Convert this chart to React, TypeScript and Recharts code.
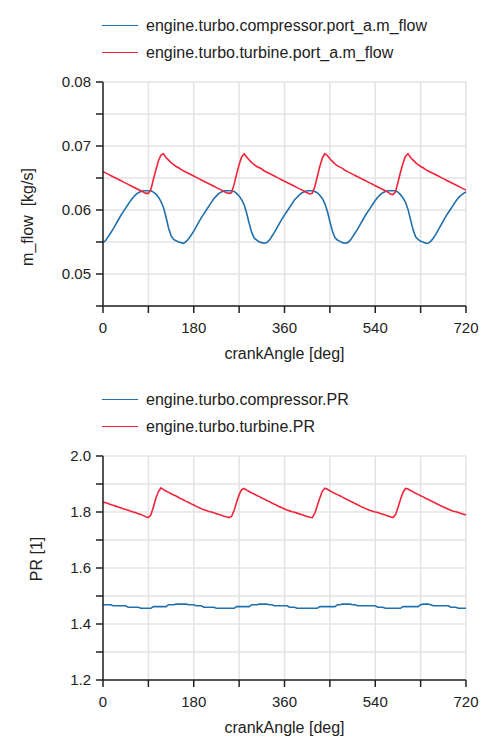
import React from 'react';
import { LineChart, Line, XAxis, YAxis, CartesianGrid, Label } from 'recharts';

// crank angle grid, one sample every 5 deg
const crankAngle: number[] = Array.from({ length: 145 }, (_, i) => i * 5);

// values, [kg/s]
const compressorMFlow = [
  0.0549, 0.0552, 0.0558, 0.0564, 0.0570, 0.0577, 0.0584, 0.0591, 0.0597, 0.0603,
  0.0609, 0.0615, 0.0620, 0.0624, 0.0627, 0.0629, 0.0630, 0.0630, 0.0630, 0.0630,
  0.0628, 0.0625, 0.0620, 0.0613, 0.0604, 0.0589, 0.0572, 0.0560, 0.0554, 0.0552,
  0.0550, 0.0549, 0.0548, 0.0551, 0.0555, 0.0561, 0.0567, 0.0574, 0.0581, 0.0588,
  0.0594, 0.0600, 0.0606, 0.0612, 0.0618, 0.0622, 0.0626, 0.0628, 0.0630, 0.0630,
  0.0630, 0.0630, 0.0629, 0.0626, 0.0622, 0.0616, 0.0608, 0.0595, 0.0579, 0.0565,
  0.0556, 0.0553, 0.0550, 0.0549, 0.0548, 0.0549, 0.0553, 0.0559, 0.0565, 0.0572,
  0.0579, 0.0586, 0.0592, 0.0598, 0.0604, 0.0610, 0.0616, 0.0620, 0.0624, 0.0627,
  0.0629, 0.0630, 0.0630, 0.0630, 0.0629, 0.0627, 0.0623, 0.0618, 0.0610, 0.0598,
  0.0582, 0.0567, 0.0557, 0.0553, 0.0551, 0.0549, 0.0548, 0.0549, 0.0552, 0.0558,
  0.0564, 0.0570, 0.0577, 0.0584, 0.0591, 0.0597, 0.0603, 0.0609, 0.0615, 0.0620,
  0.0624, 0.0627, 0.0629, 0.0630, 0.0630, 0.0630, 0.0630, 0.0628, 0.0624, 0.0619,
  0.0612, 0.0601, 0.0585, 0.0569, 0.0558, 0.0554, 0.0551, 0.0550, 0.0548, 0.0548,
  0.0551, 0.0556, 0.0562, 0.0569, 0.0576, 0.0583, 0.0590, 0.0596, 0.0602, 0.0608,
  0.0614, 0.0619, 0.0623, 0.0626, 0.0628,
];

const turbineMFlow = [
  0.0660, 0.0658, 0.0656, 0.0654, 0.0652, 0.0650, 0.0648, 0.0646, 0.0644, 0.0642,
  0.0640, 0.0638, 0.0636, 0.0634, 0.0632, 0.0630, 0.0628, 0.0626, 0.0626, 0.0632,
  0.0648, 0.0663, 0.0677, 0.0686, 0.0688, 0.0682, 0.0678, 0.0674, 0.0671, 0.0668,
  0.0666, 0.0663, 0.0661, 0.0659, 0.0657, 0.0655, 0.0653, 0.0651, 0.0649, 0.0647,
  0.0645, 0.0643, 0.0641, 0.0639, 0.0637, 0.0635, 0.0633, 0.0631, 0.0629, 0.0627,
  0.0626, 0.0627, 0.0640, 0.0656, 0.0671, 0.0683, 0.0688, 0.0683, 0.0678, 0.0674,
  0.0671, 0.0668, 0.0666, 0.0664, 0.0661, 0.0659, 0.0657, 0.0655, 0.0653, 0.0651,
  0.0649, 0.0647, 0.0645, 0.0643, 0.0641, 0.0639, 0.0637, 0.0635, 0.0633, 0.0631,
  0.0629, 0.0627, 0.0625, 0.0626, 0.0636, 0.0652, 0.0668, 0.0681, 0.0688, 0.0685,
  0.0680, 0.0676, 0.0672, 0.0669, 0.0667, 0.0665, 0.0662, 0.0660, 0.0658, 0.0656,
  0.0654, 0.0652, 0.0650, 0.0648, 0.0646, 0.0644, 0.0642, 0.0640, 0.0638, 0.0636,
  0.0634, 0.0632, 0.0630, 0.0628, 0.0625, 0.0624, 0.0628, 0.0643, 0.0659, 0.0673,
  0.0684, 0.0688, 0.0682, 0.0678, 0.0674, 0.0671, 0.0668, 0.0666, 0.0663, 0.0661,
  0.0659, 0.0657, 0.0655, 0.0653, 0.0651, 0.0649, 0.0647, 0.0645, 0.0643, 0.0641,
  0.0639, 0.0637, 0.0635, 0.0633, 0.0631,
];

// pressure ratios [1]
const compressorPR = [
  1.469, 1.469, 1.469, 1.469, 1.465, 1.465, 1.465, 1.465, 1.465, 1.465,
  1.460, 1.460, 1.460, 1.460, 1.460, 1.456, 1.456, 1.456, 1.456, 1.456,
  1.462, 1.462, 1.462, 1.462, 1.462, 1.462, 1.469, 1.469, 1.469, 1.471,
  1.471, 1.471, 1.471, 1.471, 1.469, 1.469, 1.469, 1.465, 1.465, 1.465,
  1.460, 1.460, 1.460, 1.460, 1.460, 1.456, 1.456, 1.456, 1.456, 1.456,
  1.456, 1.456, 1.456, 1.462, 1.462, 1.462, 1.462, 1.462, 1.462, 1.469,
  1.469, 1.469, 1.471, 1.471, 1.471, 1.471, 1.469, 1.469, 1.465, 1.465,
  1.465, 1.465, 1.465, 1.465, 1.460, 1.460, 1.460, 1.456, 1.456, 1.456,
  1.456, 1.456, 1.456, 1.456, 1.456, 1.456, 1.462, 1.462, 1.462, 1.462,
  1.462, 1.462, 1.462, 1.469, 1.469, 1.471, 1.471, 1.471, 1.471, 1.469,
  1.469, 1.465, 1.465, 1.465, 1.465, 1.465, 1.465, 1.465, 1.465, 1.460,
  1.460, 1.460, 1.456, 1.456, 1.456, 1.456, 1.456, 1.456, 1.456, 1.462,
  1.462, 1.462, 1.462, 1.462, 1.462, 1.462, 1.469, 1.471, 1.471, 1.471,
  1.469, 1.465, 1.465, 1.465, 1.465, 1.465, 1.465, 1.465, 1.460, 1.460,
  1.460, 1.456, 1.456, 1.456, 1.456,
];

const turbinePR = [
  1.836, 1.833, 1.830, 1.827, 1.824, 1.821, 1.818, 1.815, 1.812, 1.809,
  1.806, 1.803, 1.800, 1.797, 1.794, 1.791, 1.787, 1.783, 1.780, 1.790,
  1.818, 1.850, 1.873, 1.886, 1.880, 1.875, 1.870, 1.865, 1.861, 1.857,
  1.852, 1.847, 1.843, 1.838, 1.834, 1.829, 1.825, 1.820, 1.816, 1.812,
  1.808, 1.805, 1.802, 1.800, 1.797, 1.794, 1.791, 1.788, 1.785, 1.783,
  1.780, 1.784, 1.805, 1.835, 1.862, 1.880, 1.884, 1.878, 1.873, 1.868,
  1.864, 1.859, 1.855, 1.850, 1.846, 1.841, 1.837, 1.832, 1.828, 1.823,
  1.819, 1.815, 1.811, 1.807, 1.804, 1.801, 1.799, 1.796, 1.793, 1.790,
  1.787, 1.784, 1.781, 1.780, 1.795, 1.822, 1.850, 1.874, 1.885, 1.881,
  1.876, 1.871, 1.866, 1.862, 1.858, 1.853, 1.848, 1.844, 1.839, 1.835,
  1.830, 1.826, 1.821, 1.817, 1.813, 1.809, 1.805, 1.803, 1.800, 1.798,
  1.795, 1.792, 1.789, 1.786, 1.783, 1.780, 1.790, 1.815, 1.845, 1.870,
  1.884, 1.882, 1.877, 1.872, 1.867, 1.863, 1.858, 1.854, 1.849, 1.845,
  1.840, 1.836, 1.831, 1.827, 1.822, 1.818, 1.814, 1.810, 1.806, 1.803,
  1.801, 1.798, 1.795, 1.792, 1.789,
];

const angleTicks = [0, 90, 180, 270, 360, 450, 540, 630, 720];
const angleLabels = [0, 180, 360, 540, 720];
const flowTicks = [0.045, 0.05, 0.055, 0.06, 0.065, 0.07, 0.075, 0.08];
const flowLabels = [0.05, 0.06, 0.07, 0.08];
const prTicks = [1.2, 1.3, 1.4, 1.5, 1.6, 1.7, 1.8, 1.9, 2.0];
const prLabels = [1.2, 1.4, 1.6, 1.8, 2.0];

const BLUE = '#2070ad';
const RED = '#f2243a';
const FONT = '"Liberation Sans", Arial, sans-serif';
const INK = '#222';
const GRID = '#e3e3e3';

type Series = { key: string; name: string; color: string; values: number[] };

interface PanelProps {
  series: Series[];
  yTicks: number[];
  yLabels: number[];
  digits: number;
  yLabel: string;
  labelDx: number;
  labelDy: number;
}

const Panel = ({ series, yTicks, yLabels, digits, yLabel, labelDx, labelDy }: PanelProps) => {
  const rows = crankAngle.map((angle, i) => {
    const row: Record<string, number> = { angle };
    series.forEach((s) => { row[s.key] = s.values[i]; });
    return row;
  });
  const domain = [yTicks[0], yTicks[yTicks.length - 1]];
  const axisLine = { stroke: INK, strokeWidth: 1.5 };

  return (
    <div style={{ position: 'relative', width: 500, height: 374 }}>
      <LineChart width={500} height={374} data={rows} margin={{ top: 82, right: 34, bottom: 0, left: 0 }}>
        <CartesianGrid stroke={GRID} strokeWidth={1.5} />
        <XAxis
          dataKey="angle"
          type="number"
          domain={[0, 720]}
          ticks={angleTicks}
          interval={0}
          height={68}
          tickSize={7}
          tickMargin={9}
          axisLine={axisLine}
          tickLine={axisLine}
          tick={{ fill: INK, fontSize: 15 }}
          tickFormatter={(v: number) => (angleLabels.includes(v) ? String(v) : '')}
        >
          <Label value="crankAngle [deg]" position="insideBottom" offset={15} fill={INK} fontSize={16} />
        </XAxis>
        <XAxis xAxisId="top" orientation="top" type="number" domain={[0, 720]} height={0} tick={false} tickLine={false} axisLine={axisLine} />
        <YAxis
          type="number"
          domain={domain}
          allowDataOverflow
          ticks={yTicks}
          interval={0}
          width={103}
          tickSize={7}
          tickMargin={5}
          axisLine={axisLine}
          tickLine={axisLine}
          tick={{ fill: INK, fontSize: 15 }}
          tickFormatter={(v: number) => (yLabels.includes(v) ? v.toFixed(digits) : '')}
        >
          <Label value={yLabel} angle={-90} position="center" dx={labelDx} dy={labelDy} fill={INK} fontSize={16} />
        </YAxis>
        <YAxis yAxisId="right" orientation="right" type="number" domain={domain} width={0} tick={false} tickLine={false} axisLine={axisLine} />
        {series.map((s) => (
          <Line
            key={s.key}
            dataKey={s.key}
            name={s.name}
            type="linear"
            stroke={s.color}
            strokeWidth={1.6}
            dot={false}
            isAnimationActive={false}
          />
        ))}
      </LineChart>
      <div style={{ position: 'absolute', left: 102, top: 12 }}>
        {series.map((s) => (
          <div key={s.key} style={{ display: 'flex', alignItems: 'center', height: 27 }}>
            <span style={{ display: 'inline-block', width: 36, height: 1.5, background: s.color, marginRight: 8 }} />
            <span style={{ fontSize: 16, color: INK }}>{s.name}</span>
          </div>
        ))}
      </div>
    </div>
  );
};

export default function App() {
  return (
    <div style={{ position: 'absolute', left: 0, top: 0, width: 500, height: 748, background: '#fff', fontFamily: FONT }}>
      <Panel
        series={[
          { key: 'comp', name: 'engine.turbo.compressor.port_a.m_flow', color: BLUE, values: compressorMFlow },
          { key: 'turb', name: 'engine.turbo.turbine.port_a.m_flow', color: RED, values: turbineMFlow },
        ]}
        yTicks={flowTicks}
        yLabels={flowLabels}
        digits={2}
        yLabel={'m_flow\u00a0\u00a0[kg/s]'}
        labelDx={-24}
        labelDy={23}
      />
      <Panel
        series={[
          { key: 'comp', name: 'engine.turbo.compressor.PR', color: BLUE, values: compressorPR },
          { key: 'turb', name: 'engine.turbo.turbine.PR', color: RED, values: turbinePR },
        ]}
        yTicks={prTicks}
        yLabels={prLabels}
        digits={1}
        yLabel="PR [1]"
        labelDx={-15}
        labelDy={-9}
      />
    </div>
  );
}
